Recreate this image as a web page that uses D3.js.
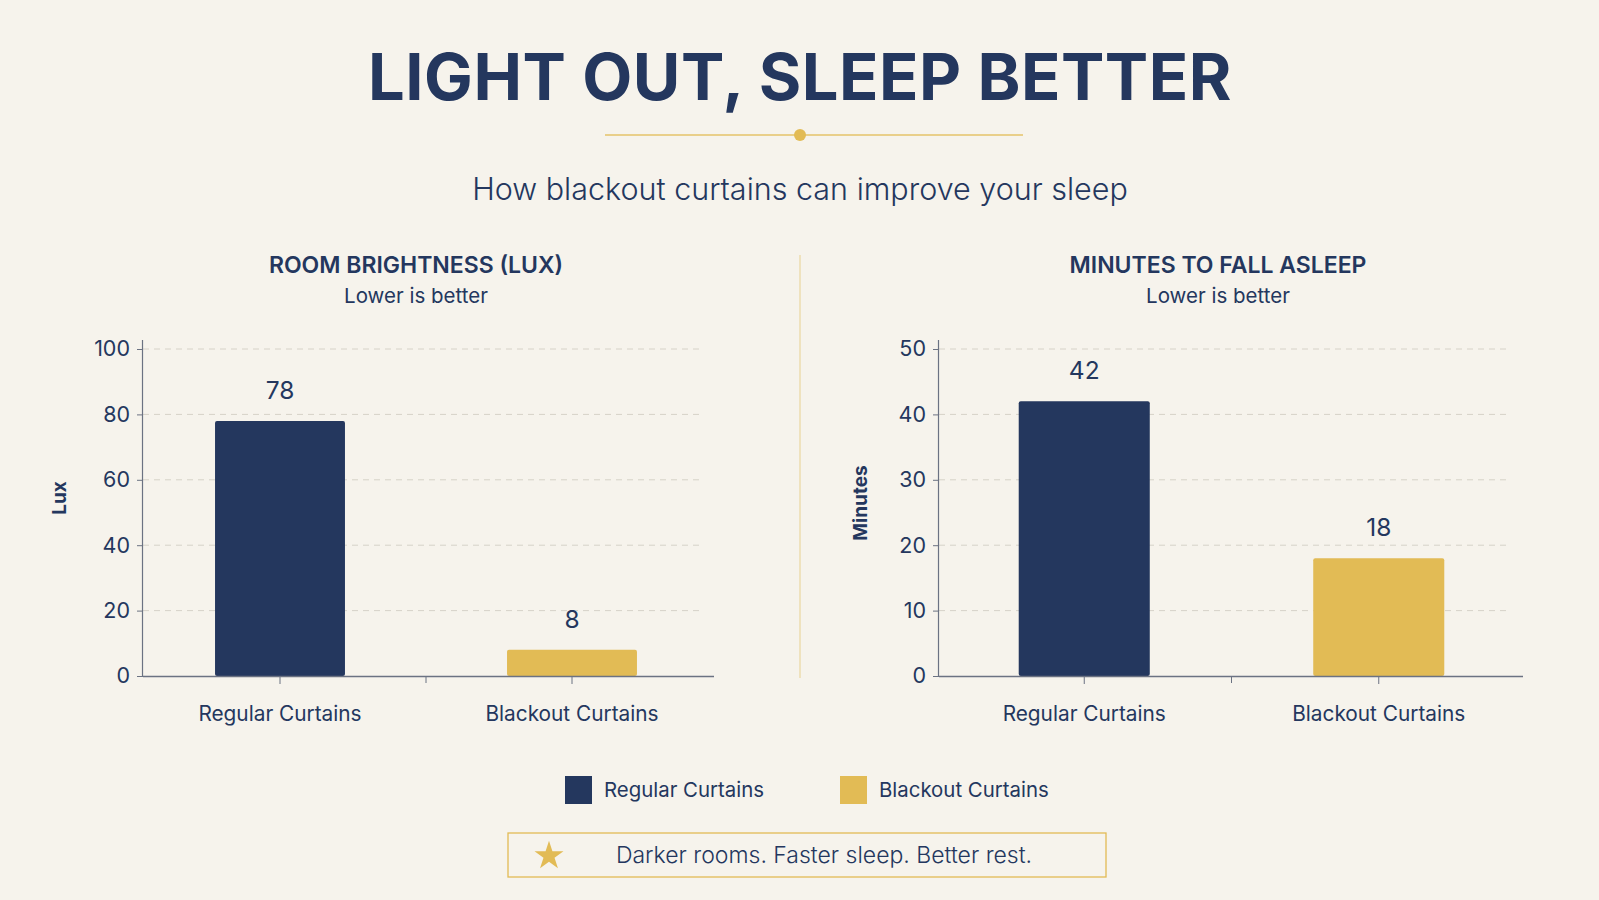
<!DOCTYPE html>
<html><head><meta charset="utf-8">
<script src="https://cdn.jsdelivr.net/npm/d3@7"></script>
<style>
html,body{margin:0;padding:0;background:#f6f3ec;}
svg{display:block;font-family:Inter, "Open Sans", sans-serif;}
</style></head>
<body>
<svg id="c" width="1599" height="900"></svg>
<script>
const categories = ["Regular Curtains", "Blackout Curtains"];
const brightnessValues = [78, 8];
const minutesValues = [42, 18];
const brightnessTicks = [0, 20, 40, 60, 80, 100];
const minutesTicks = [0, 10, 20, 30, 40, 50];
const seriesColors = ["#24375e", "#e2bb55"];

const NAVY = "#24375e", GOLD = "#e2bb55", AX = "#6b7282", GRID = "#d6d2c8";
const svg = d3.select("#c");
svg.append("rect").attr("width",1599).attr("height",900).attr("fill","#f6f3ec");

// Header
svg.append("text").attr("x",800).attr("y",100).attr("text-anchor","middle")
  .attr("font-size",65).attr("font-weight",700).attr("fill",NAVY).attr("letter-spacing",0.5)
  .text("LIGHT OUT, SLEEP BETTER");
svg.append("line").attr("x1",605).attr("x2",1023).attr("y1",135).attr("y2",135)
  .attr("stroke",GOLD).attr("stroke-width",1.5).attr("opacity",0.85);
svg.append("circle").attr("cx",800).attr("cy",135).attr("r",6).attr("fill",GOLD);
svg.append("text").attr("x",800).attr("y",200).attr("text-anchor","middle")
  .attr("font-size",30.5).attr("font-weight",300).attr("fill",NAVY)
  .text("How blackout curtains can improve your sleep");

// divider
svg.append("line").attr("x1",800).attr("x2",800).attr("y1",255).attr("y2",678)
  .attr("stroke",GOLD).attr("stroke-width",1).attr("opacity",0.6);

function panel(cfg){
  const g = svg.append("g");
  const y = d3.scaleLinear().domain([0, cfg.max]).range([676, 349]);
  const x = d3.scaleBand().domain(categories).range([cfg.bandL, cfg.bandR]).padding(0);
  const barW = x.bandwidth()*0.445;

  g.append("text").attr("x",cfg.titleX).attr("y",273).attr("text-anchor","middle")
    .attr("font-size",23).attr("font-weight",600).attr("fill",NAVY).text(cfg.title);
  g.append("text").attr("x",cfg.titleX).attr("y",303).attr("text-anchor","middle")
    .attr("font-size",20.5).attr("fill",NAVY).text("Lower is better");

  // grid
  g.selectAll("line.grid").data(cfg.ticks.filter(t=>t>0)).join("line")
    .attr("x1",cfg.axisX).attr("x2",cfg.gridR)
    .attr("y1",d=>y(d)).attr("y2",d=>y(d))
    .attr("stroke",GRID).attr("stroke-width",1).attr("stroke-dasharray","6,5");

  // bars
  g.selectAll("rect.bar").data(cfg.values).join("rect")
    .attr("x",(d,i)=>x(categories[i])+x.bandwidth()/2-barW/2)
    .attr("width",barW)
    .attr("y",d=>y(d)).attr("height",d=>676-y(d))
    .attr("rx",2)
    .attr("fill",(d,i)=>seriesColors[i]);

  // value labels
  g.selectAll("text.val").data(cfg.values).join("text")
    .attr("x",(d,i)=>x(categories[i])+x.bandwidth()/2)
    .attr("y",d=>y(d)-22).attr("text-anchor","middle")
    .attr("font-size",24.5).attr("fill",NAVY).text(d=>d);

  // y axis
  const ya = g.append("g").attr("transform",`translate(${cfg.axisX},0)`)
    .call(d3.axisLeft(y).tickValues(cfg.ticks).tickSize(6).tickPadding(7));
  ya.select(".domain").attr("stroke",AX).attr("stroke-width",1.2)
    .attr("d",`M-0.5,${676}V${340}`);
  ya.selectAll(".tick line").attr("stroke",AX);
  ya.selectAll(".tick text").attr("font-size",21.5).attr("fill",NAVY)
    .attr("font-family",null);

  // x axis
  const xa = g.append("g").attr("transform","translate(0,676)")
    .call(d3.axisBottom(x).tickSize(8).tickPadding(22));
  xa.select(".domain").attr("stroke",AX).attr("stroke-width",1.5)
    .attr("d",`M${cfg.axisX},0.5H${cfg.axisR}`);
  xa.selectAll(".tick line").attr("stroke",AX);
  xa.selectAll(".tick text").attr("font-size",20.8).attr("fill",NAVY)
    .attr("font-family",null);
  xa.attr("font-family",null);
  ya.attr("font-family",null);
  // separator tick between bands
  xa.append("line").attr("x1",x.step()+cfg.bandL).attr("x2",x.step()+cfg.bandL)
    .attr("y1",0).attr("y2",7).attr("stroke",AX);

  // y label
  g.append("text").attr("transform",`translate(${cfg.labelX},${cfg.labelY}) rotate(-90)`)
    .attr("text-anchor","middle").attr("font-size",19).attr("font-weight",700)
    .attr("fill",NAVY).text(cfg.yLabel);
}

panel({title:"ROOM BRIGHTNESS (LUX)", titleX:416, values:brightnessValues, max:100, ticks:brightnessTicks,
  axisX:143, axisR:714, gridR:704, bandL:134, bandR:718, yLabel:"Lux", labelX:66, labelY:498});
panel({title:"MINUTES TO FALL ASLEEP", titleX:1218, values:minutesValues, max:50, ticks:minutesTicks,
  axisX:939, axisR:1523, gridR:1509, bandL:937, bandR:1526, yLabel:"Minutes", labelX:867, labelY:503});

// legend
const leg = svg.append("g");
const legX = [565, 840];
categories.forEach((c,i)=>{
  leg.append("rect").attr("x",legX[i]).attr("y",776).attr("width",27).attr("height",28).attr("fill",seriesColors[i]);
  leg.append("text").attr("x",legX[i]+39).attr("y",797).attr("font-size",20.4).attr("fill",NAVY).text(c);
});

// footer box
svg.append("rect").attr("x",508).attr("y",833).attr("width",598).attr("height",44)
  .attr("fill","none").attr("stroke",GOLD).attr("stroke-width",1.3);
const star = d3.symbol().type(d3.symbolStar).size(260);
svg.append("path").attr("d",star()).attr("transform","translate(549,856)").attr("fill",GOLD);
svg.append("text").attr("x",824).attr("y",863).attr("text-anchor","middle")
  .attr("font-size",23).attr("font-weight",300).attr("fill",NAVY)
  .text("Darker rooms. Faster sleep. Better rest.");
</script>
</body></html>
